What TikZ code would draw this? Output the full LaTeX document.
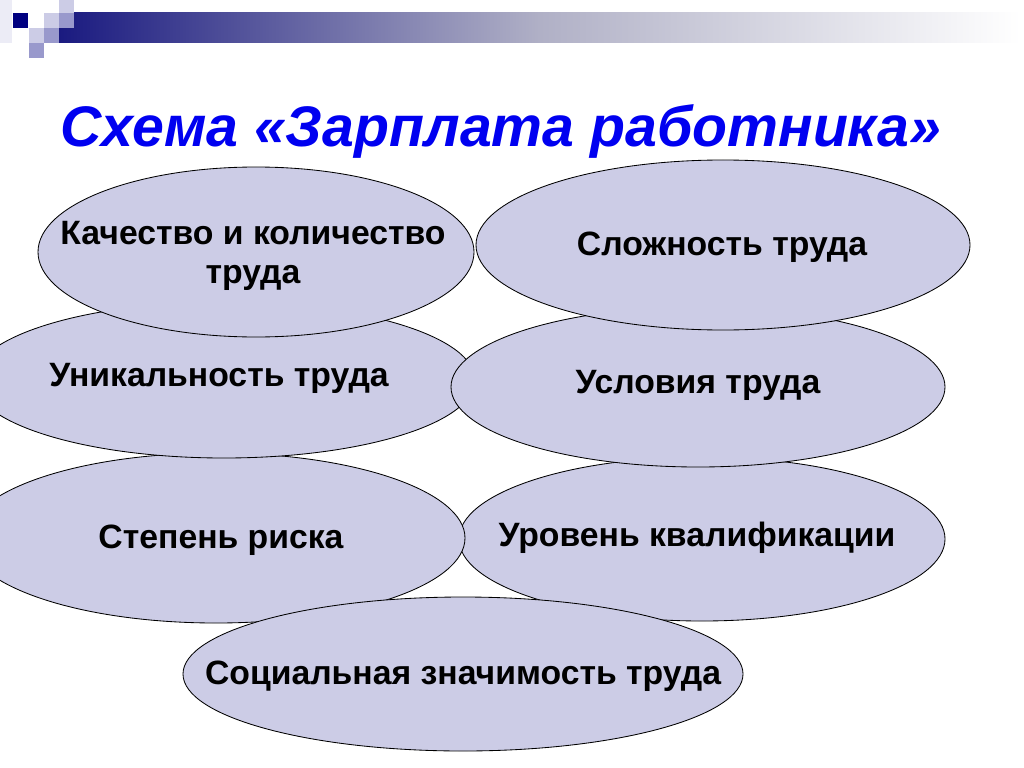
\documentclass[tikz,border=0pt]{standalone}
\usepackage{fontspec}
\setmainfont{Liberation Sans}
\usetikzlibrary{shapes.geometric}

\definecolor{bubblefill}{RGB}{204,204,230}
\definecolor{titleblue}{RGB}{0,0,240}
\definecolor{decodark}{RGB}{0,0,128}
\definecolor{decomid}{RGB}{153,153,204}
\definecolor{decolight}{RGB}{204,204,230}
\definecolor{decofaint}{RGB}{236,236,246}
\definecolor{barnavy}{RGB}{26,26,128}
\definecolor{barmid}{RGB}{176,176,198}

\tikzset{
  bubble/.style 2 args={ellipse, draw=black, line width=0.6pt, fill=bubblefill,
    minimum width=#1*0.5mm, minimum height=#2*0.5mm, inner sep=0pt},
  bubbletext/.style={align=center, inner sep=0pt,
    font=\fontsize{24}{27.5}\selectfont\bfseries},
}

\begin{document}
\begin{tikzpicture}[x=0.25mm,y=-0.25mm]
\useasboundingbox (0,0) rectangle (1024,767);

% header bar and squares
\fill[decofaint] (0,0) rectangle (12,43);
\shade[left color=barnavy, right color=white, middle color=barmid] (59,13) rectangle (1020,43);
\fill[decodark] (13,13) rectangle (28,28);
\fill[decolight] (44,13) rectangle (59,28);
\fill[decolight] (59,0) rectangle (74,13);
\fill[decomid] (59,13) rectangle (74,28);
\fill[decolight] (29,28) rectangle (44,43);
\fill[decomid] (44,28) rectangle (59,43);
\fill[decomid] (29,43) rectangle (44,58);

\node[text=titleblue, font=\fontsize{40.7}{48}\selectfont\bfseries\itshape] (title) at (501,131) {Схема «Зарплата работника»};

% the bubbles, back to front
\node[bubble={243}{82}] (kval) at (702,539) {};
\node[bubbletext] (kval-t) at (697,538) {Уровень квалификации};
\node[bubble={249}{85}] (risk) at (216,538) {};
\node[bubbletext] (risk-t) at (221,540) {Степень риска};
\node[bubble={251}{78}] (unik) at (224,380) {};
\node[bubbletext] (unik-t) at (219,378) {Уникальность труда};
\node[bubble={247}{80}] (usl) at (698,387) {};
\node[bubbletext] (usl-t) at (698,385) {Условия труда};
\node[bubble={218}{85}] (kach) at (256,252) {};
\node[bubbletext] (kach-t) at (253,256) {Качество и количество\\труда};
\node[bubble={247}{85}] (slozh) at (723,245) {};
\node[bubbletext] (slozh-t) at (722,247) {Сложность труда};
\node[bubble={280}{77}] (soc) at (463,674) {};
\node[bubbletext] (soc-t) at (463,676) {Социальная значимость труда};
\end{tikzpicture}
\end{document}
